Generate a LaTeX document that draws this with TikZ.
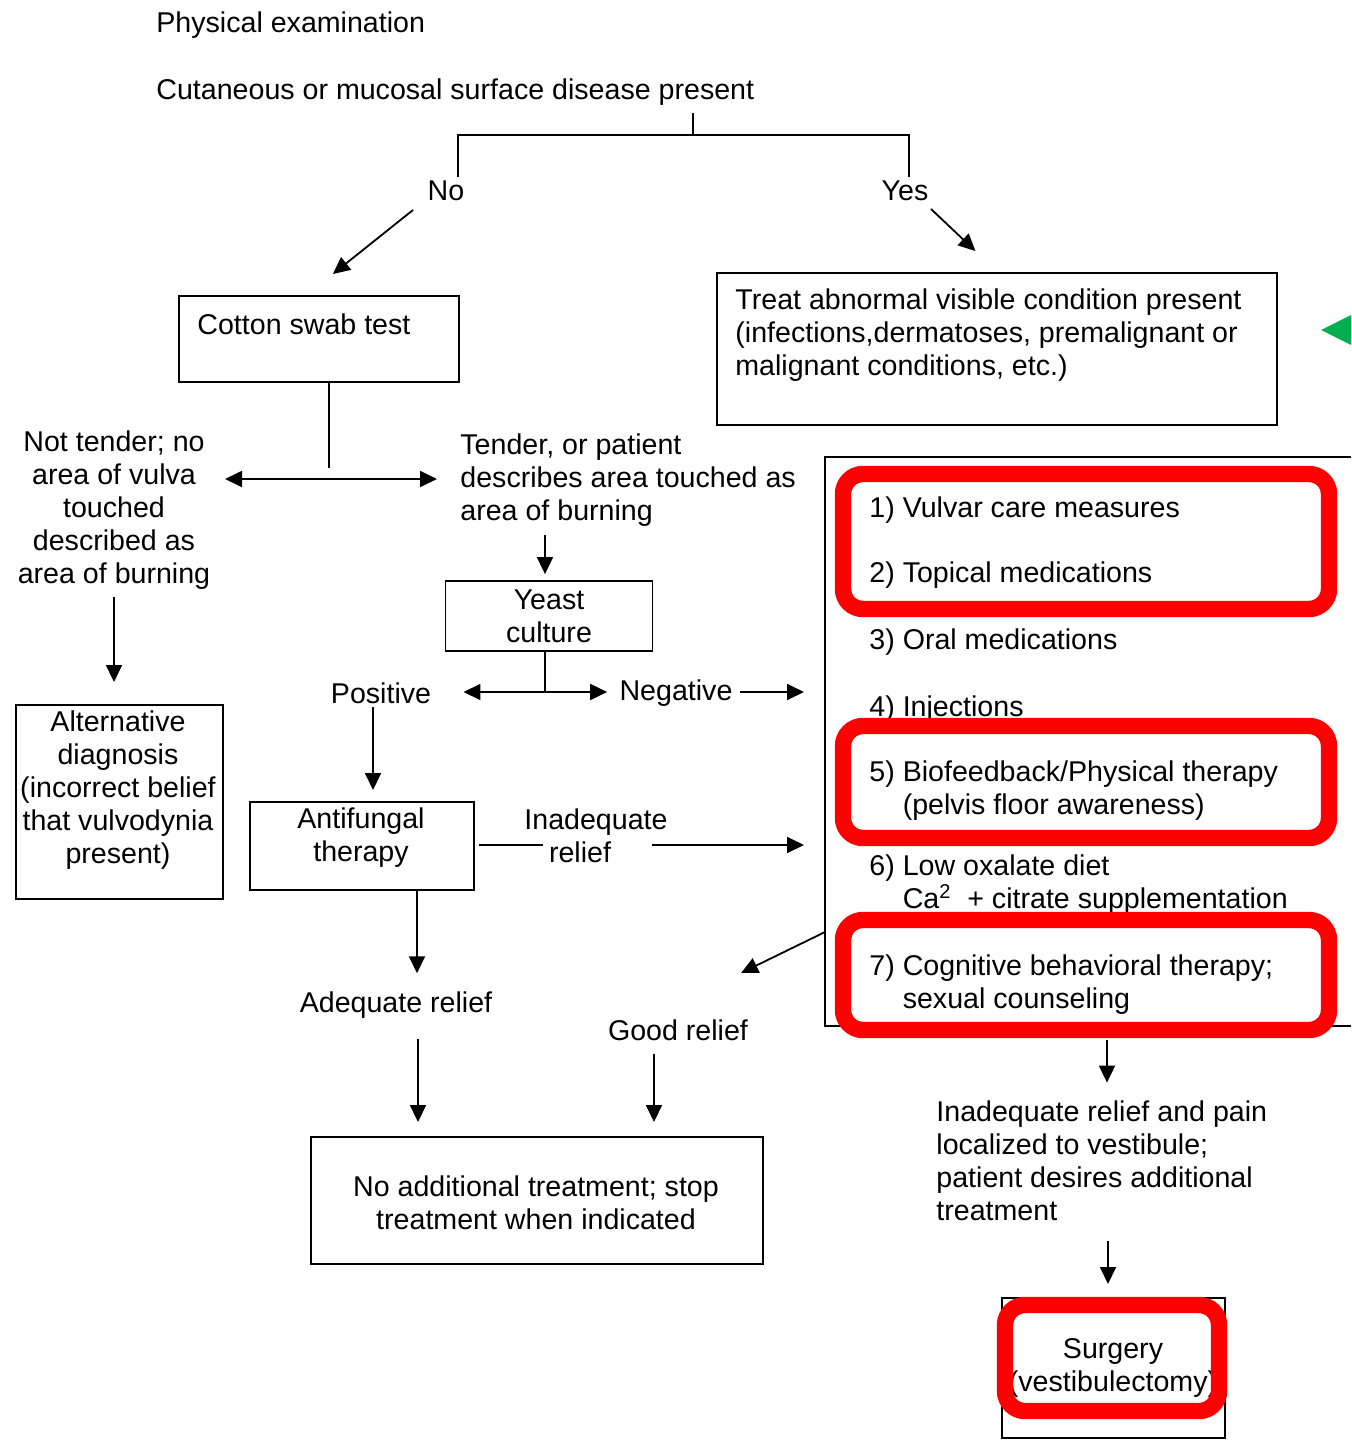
\documentclass[tikz,border=0pt]{standalone}
\usepackage{fontspec}
\setmainfont{Liberation Sans}
\usetikzlibrary{arrows.meta}
\definecolor{markgreen}{RGB}{0,176,80}
\tikzset{
  txt/.style={font=\fontsize{14.3}{16.5}\selectfont, inner sep=0pt},
  box/.style={draw, line width=0.9pt, inner sep=0pt},
  conn/.style={line width=0.9pt},
  arr/.style={conn, -{Triangle[length=8.5pt,width=8pt]}},
  darr/.style={conn, {Triangle[length=8.5pt,width=8pt]}-{Triangle[length=8.5pt,width=8pt]}},
  hl/.style={draw=red, line width=8.2pt, rounded corners=10pt},
}
\begin{document}
\begin{tikzpicture}[x=0.5pt,y=-0.5pt]
\useasboundingbox (0,0) rectangle (1351,1440);
\fill[white] (0,0) rectangle (1351,1440);

% top texts
\node[txt, anchor=west] (pe) at (156,25) {Physical examination};
\node[txt, anchor=west] (cut) at (156,92) {Cutaneous or mucosal surface disease present};
\node[txt] (no) at (446,191) {No};
\node[txt] (yes) at (905,191) {Yes};

% boxes
\node[box, anchor=north west, minimum width=140pt, minimum height=43pt] (cs) at (178,295) {};
\node[txt, anchor=west] (cst) at (197,324) {Cotton swab test};
\node[box, anchor=north west, minimum width=280pt, minimum height=76pt] (treat) at (716,272) {};
\node[txt, anchor=west, align=left] (treatt) at (735,335) {Treat abnormal visible condition present\\(infections,dermatoses, premalignant or\\malignant conditions, etc.)};
\fill[markgreen] (1321,330) -- (1351,315) -- (1351,345) -- cycle;

\node[txt, align=center] (nt) at (114,510) {Not tender; no\\area of vulva\\touched\\described as\\area of burning};
\node[txt, anchor=west, align=left] (tend) at (460,480) {Tender, or patient\\describes area touched as\\area of burning};
\node[box, minimum width=103.5pt, minimum height=35pt, align=center, font=\fontsize{14.3}{16.5}\selectfont] (yeast) at (549,616) {Yeast\\culture};
\node[txt] (pos) at (381,693) {Positive};
\node[txt] (neg) at (676,693) {Negative};

\node[box, anchor=north west, minimum width=103.5pt, minimum height=97pt] (alt) at (15,704) {};
\node[txt, align=center] (altt) at (118,790) {Alternative\\diagnosis\\(incorrect belief\\that vulvodynia\\present)};
\node[box, anchor=north west, minimum width=112pt, minimum height=44pt] (anti) at (249,801) {};
\node[txt, align=center] (antit) at (361,838) {Antifungal\\therapy};
\node[txt, align=center] (inad) at (596,836) {Inadequate\\relief\hspace*{16pt}};
\node[txt] (adeq) at (396,1005) {Adequate relief};
\node[txt] (good) at (678,1030) {Good relief};
\node[box, anchor=north west, minimum width=226pt, minimum height=63.5pt] (noadd) at (310,1136) {};
\node[txt, align=center] (noaddt) at (536,1203) {No additional treatment; stop\\treatment when indicated};

% treatment options frame
\coordinate (tbtr) at (1351,457);
\coordinate (tbtl) at (825,457);
\coordinate (tbbl) at (825,1026);
\coordinate (tbbr) at (1351,1026);
\draw[conn] (tbtr) -- (tbtl) -- (tbbl) -- (tbbr);
\node[txt, anchor=west] (i1) at (869,510) {1) Vulvar care measures};
\node[txt, anchor=west] (i2) at (869,575) {2) Topical medications};
\node[txt, anchor=west] (i3) at (869,642) {3) Oral medications};
\node[txt, anchor=west] (i4) at (869,709) {4) Injections};
\node[txt, anchor=west, align=left] (i5) at (869,791) {5) Biofeedback/Physical therapy\\\phantom{5)\ }(pelvis floor awareness)};
\node[txt, anchor=west, align=left] (i6) at (869,885) {6) Low oxalate diet\\\phantom{6)\ }Ca\textsuperscript{2}\ \ + citrate supplementation};
\node[txt, anchor=west, align=left] (i7) at (869,985) {7) Cognitive behavioral therapy;\\\phantom{7)\ }sexual counseling};

\node[txt, anchor=west, align=left] (inrel) at (936,1161) {Inadequate relief and pain\\localized to vestibule;\\patient desires additional\\treatment};
\node[box, anchor=north west, minimum width=111.5pt, minimum height=70pt] (surg) at (1001,1297) {};
\node[txt, align=center] (surgt) at (1113,1368) {Surgery\\(vestibulectomy)};

% connectors
\coordinate (br) at (693,113);
\coordinate (bj) at (693,135);
\draw[conn] (br) -- (bj);
\draw[conn] ([shift={(12,-4)}]no.north) |- (bj) -| ([shift={(4,-4)}]yes.north);
\draw[arr] (no.center) ++(-33,19) -- ([shift={(14,-21)}]cs.north);
\draw[arr] (yes.center) ++(26,18) -- ([shift={(-21.5,-21)}]treat.north);
\coordinate (csj) at (329,468);
\draw[conn] (csj |- cs.south) -- (csj);
\coordinate (dl) at (225,479);
\coordinate (dr) at (437,479);
\draw[darr] (dl) -- (dr);
\coordinate (ya) at (545,535);
\draw[arr] (ya) -- ([yshift=3pt]ya |- yeast.north);
\coordinate (yj) at (545,692);
\draw[conn] (yj |- yeast.south) -- (yj);
\draw[darr] ([xshift=16pt]pos.east |- yj) -- ([xshift=-6pt]neg.west |- yj);
\coordinate (negend) at (804,692);
\draw[arr] ([xshift=3.5pt]neg.east |- yj) -- (negend);
\coordinate (pa) at (373,707);
\draw[arr] (pa) -- ([yshift=5.5pt]pa |- anti.north);
\coordinate (inl) at (543,845);
\coordinate (inr) at (652,845);
\coordinate (inend) at (804,845);
\draw[conn] (inl -| anti.east) ++(4,0) -- (inl);
\draw[arr] (inr) -- (inend);
\coordinate (aa) at (417,889);
\draw[arr] (aa |- anti.south) -- ([yshift=9pt]aa |- adeq.north);
\coordinate (ab) at (418,1039);
\draw[arr] (ab) -- ([yshift=7pt]ab |- noadd.north);
\coordinate (gb) at (654,1054);
\draw[arr] (gb) -- ([yshift=7pt]gb |- noadd.north);
\coordinate (tbl) at (825,932);
\coordinate (goodend) at (741,973);
\draw[arr] (tbl) -- (goodend);
\coordinate (ib) at (1107,1040);
\draw[arr] (ib) -- ([yshift=9pt]ib |- inrel.north);
\coordinate (sa) at (1108,1241);
\draw[arr] (sa) -- ([yshift=6.5pt]sa |- surg.north);
\coordinate (na) at (114,597);
\draw[arr] (na) -- ([yshift=11pt]na |- alt.north);

% highlights
\draw[hl] (843,474) rectangle (1329,609);
\draw[hl] (843,726) rectangle (1329,838);
\draw[hl] (843,920) rectangle (1329,1030);
\draw[hl] (1005,1305) rectangle (1219,1411);
\end{tikzpicture}
\end{document}
